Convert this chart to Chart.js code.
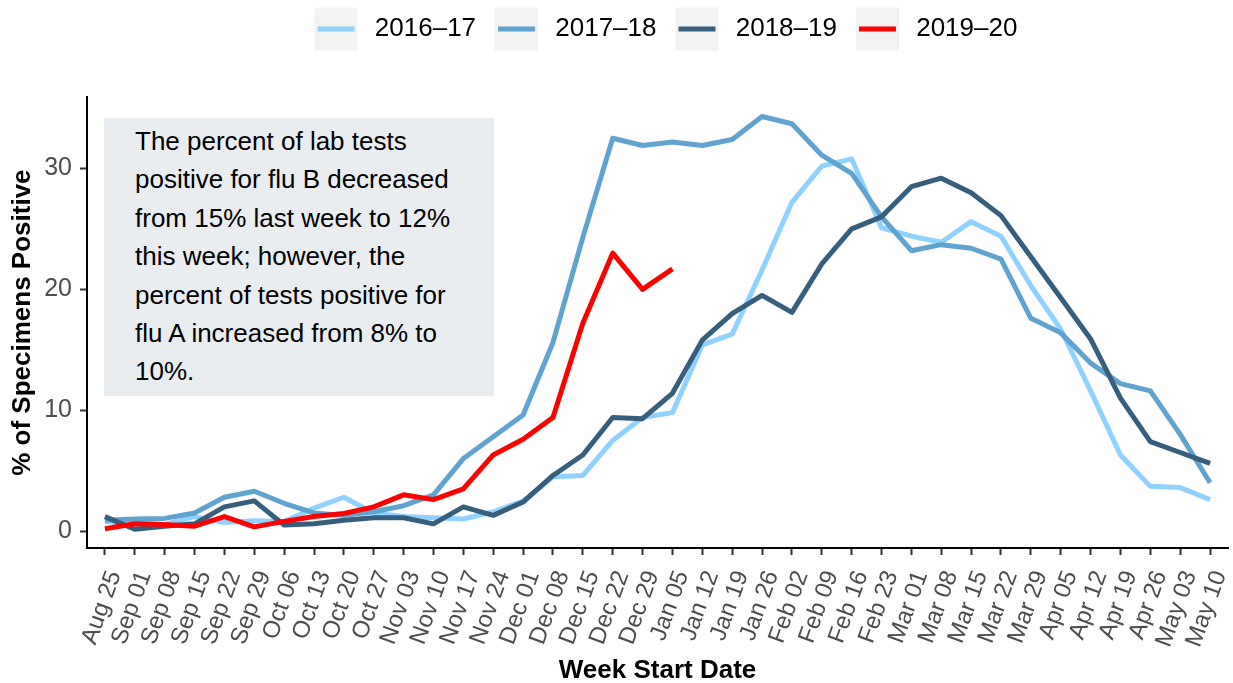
<!DOCTYPE html>
<html>
<head>
<meta charset="utf-8">
<script src="https://cdn.jsdelivr.net/npm/chart.js@4"></script>
<style>
  html, body { margin: 0; padding: 0; background: #fff; }
  #wrap { position: relative; width: 1233px; height: 683px; }
  #note {
    position: absolute; left: 104px; top: 118px;
    width: 359px; height: 274px; padding: 4px 0 0 31px;
    background: #e9edf0; color: #000;
    font: 26px 'Liberation Sans', Arial, sans-serif; line-height: 38.4px;
    white-space: nowrap;
  }
</style>
</head>
<body>
<div id="wrap">
  <canvas id="fluChart"></canvas>
  <div id="note">The percent of lab tests<br>positive for flu B decreased<br>from 15% last week to 12%<br>this week; however, the<br>percent of tests positive for<br>flu A increased from 8% to<br>10%.</div>
</div>
<script>
// week labels on the x axis
const weeks = ['Aug 25', 'Sep 01', 'Sep 08', 'Sep 15', 'Sep 22', 'Sep 29', 'Oct 06', 'Oct 13',
    'Oct 20', 'Oct 27', 'Nov 03', 'Nov 10', 'Nov 17', 'Nov 24', 'Dec 01', 'Dec 08', 'Dec 15',
    'Dec 22', 'Dec 29', 'Jan 05', 'Jan 12', 'Jan 19', 'Jan 26', 'Feb 02', 'Feb 09', 'Feb 16',
    'Feb 23', 'Mar 01', 'Mar 08', 'Mar 15', 'Mar 22', 'Mar 29', 'Apr 05', 'Apr 12', 'Apr 19',
    'Apr 26', 'May 03', 'May 10'];

const seasons = ['2016–17', '2017–18', '2018–19', '2019–20'];

// % of specimens positive per week
const s2016 = [0.8, 0.6, 0.55, 1.2, 0.7, 0.85, 0.8, 1.9, 2.8, 1.5, 1.2, 1.1, 1.0, 1.6, 2.5,
    4.5, 4.6, 7.5, 9.4, 9.8, 15.4, 16.3, 21.6, 27.2, 30.2, 30.8, 25.1, 24.4, 23.9, 25.6, 24.4,
    20.3, 16.7, 11.6, 6.3, 3.7, 3.6, 2.6];
const s2017 = [0.9, 1.0, 1.05, 1.5, 2.8, 3.3, 2.3, 1.5, 1.3, 1.6, 2.1, 3.0, 6.0, 7.8, 9.6,
    15.6, 24.3, 32.5, 31.9, 32.2, 31.9, 32.4, 34.3, 33.7, 31.1, 29.6, 26.0, 23.2, 23.7, 23.4,
    22.5, 17.6, 16.4, 13.9, 12.2, 11.6, 8.0, 4.0];
const s2018 = [1.2, 0.15, 0.4, 0.6, 2.0, 2.5, 0.5, 0.6, 0.9, 1.1, 1.1, 0.6, 2.0, 1.3, 2.4,
    4.6, 6.3, 9.4, 9.3, 11.4, 15.8, 18.0, 19.5, 18.1, 22.1, 25.0, 26.0, 28.5, 29.2, 28.0, 26.1,
    22.7, 19.3, 15.9, 11.0, 7.4, 6.5, 5.6];
const s2019 = [0.2, 0.6, 0.55, 0.4, 1.2, 0.35, 0.8, 1.2, 1.45, 2.0, 3.0, 2.6, 3.5, 6.3, 7.6,
    9.4, 17.2, 23.0, 20.0, 21.7];

const yTicks = [0, 10, 20, 30];

const colors = ['#90d2ff', '#5fa3d0', '#365f7e', '#ff0000'];
const series = [s2016, s2017, s2018, s2019];

Chart.defaults.font.family = "'Liberation Sans', Arial, sans-serif";

// grey key backgrounds behind the legend lines, legend nudged right like the original
const legendKeys = {
    id: 'legendKeys',
    afterLayout(chart) {
        if (chart.legend) {
            chart.legend.left += 10;
            chart.legend.right += 10;
        }
    },
    beforeDraw(chart) {
        const lg = chart.legend;
        if (!lg || !lg.legendHitBoxes) return;
        const ctx = chart.ctx;
        ctx.save();
        ctx.fillStyle = '#f2f2f2';
        lg.legendHitBoxes.forEach(hb => {
            ctx.fillRect(hb.left - 3, hb.top + 13 - 21.5, 43, 43);
        });
        ctx.restore();
    }
};

const data = {
    datasets: series.map((vals, k) => ({
        label: seasons[k],
        data: vals.map((v, i) => ({x: i, y: v})),
        borderColor: colors[k],
        backgroundColor: colors[k],
        borderWidth: 5,
        borderJoinStyle: 'round',
        pointRadius: 0,
        tension: 0,
        order: 3 - k
    }))
};

const config = {
    type: 'line',
    data: data,
    plugins: [legendKeys],
    options: {
        responsive: true,
        maintainAspectRatio: false,
        animation: false,
        layout: {
            padding: {top: -6, right: 5, bottom: 0, left: 0}
        },
        scales: {
            x: {
                type: 'linear',
                min: -0.6,
                max: 37.6,
                afterBuildTicks: scale => {
                    scale.ticks = weeks.map((w, i) => ({value: i}));
                },
                afterFit: scale => {
                    scale.height = 135;
                    scale.paddingLeft = 0;
                    scale.paddingRight = 0;
                },
                grid: {
                    drawOnChartArea: false,
                    tickLength: 7,
                    tickColor: '#333',
                    tickWidth: 2
                },
                border: {color: '#000', width: 2},
                ticks: {
                    autoSkip: false,
                    minRotation: 70,
                    maxRotation: 70,
                    padding: 12,
                    labelOffset: 10,
                    color: '#4d4d4d',
                    font: {size: 24},
                    callback: v => weeks[v]
                },
                title: {
                    display: true,
                    text: 'Week Start Date',
                    color: '#000',
                    font: {size: 26, weight: 'bold'},
                    padding: {top: 0, bottom: -3}
                }
            },
            y: {
                min: -1.4,
                max: 35.9,
                afterBuildTicks: scale => {
                    scale.ticks = yTicks.map(v => ({value: v}));
                },
                afterFit: scale => {
                    scale.width = 87;
                },
                grid: {
                    drawOnChartArea: false,
                    tickLength: 7,
                    tickColor: '#333',
                    tickWidth: 2
                },
                border: {color: '#000', width: 2},
                ticks: {
                    padding: 8,
                    color: '#4d4d4d',
                    font: {size: 25}
                },
                title: {
                    display: true,
                    text: '% of Specimens Positive',
                    color: '#000',
                    font: {size: 26, weight: 'bold'},
                    padding: {top: 7, bottom: 0}
                }
            }
        },
        plugins: {
            legend: {
                position: 'top',
                fullSize: false,
                labels: {
                    color: '#000',
                    font: {size: 26},
                    boxWidth: 37,
                    boxHeight: 5,
                    padding: 22,
                    generateLabels: chart => chart.data.datasets.map((ds, i) => ({
                        text: ' ' + ds.label,
                        fillStyle: ds.borderColor,
                        strokeStyle: ds.borderColor,
                        lineWidth: 0,
                        hidden: false,
                        datasetIndex: i,
                        fontColor: '#000'
                    }))
                }
            },
            title: {
                display: true,
                text: '',
                weight: 500,
                fullSize: false,
                font: {size: 1},
                padding: {top: 0, bottom: 44}
            },
            tooltip: {enabled: false}
        }
    }
};

const fluChart = new Chart(
    document.getElementById('fluChart'),
    config
);
</script>
</body>
</html>
